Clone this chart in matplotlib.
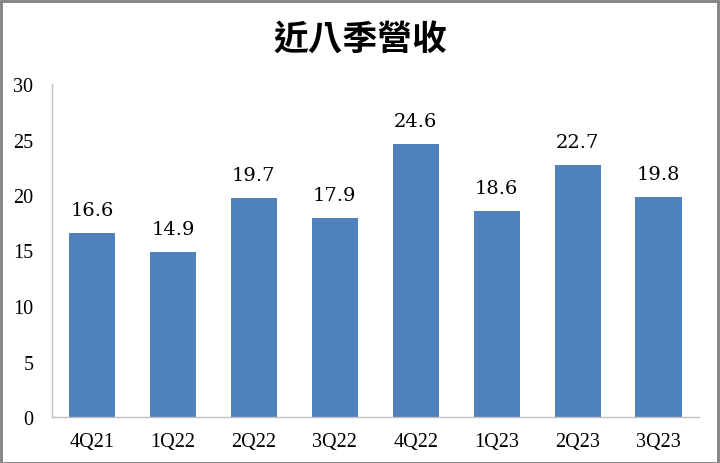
import matplotlib
matplotlib.use("Agg")
import matplotlib.pyplot as plt
from matplotlib.patches import Rectangle

categories = ["4Q21", "1Q22", "2Q22", "3Q22", "4Q22", "1Q23", "2Q23", "3Q23"]
revenue = [16.6, 14.9, 19.7, 17.9, 24.6, 18.6, 22.7, 19.8]
yticks = [0, 5, 10, 15, 20, 25, 30]
title = "近八季營收"

W, H = 720, 464
fig = plt.figure(figsize=(W / 100, H / 100), dpi=100)
ax = fig.add_axes([51.5 / W, (H - 418) / H, (699 - 51.5) / W, (418 - 85) / H])

x = list(range(len(categories)))
ax.bar(x, revenue, width=0.57, color="#4F81BD", zorder=2)
ax.set_xlim(-0.5, len(categories) - 0.5)
ax.set_ylim(0, 30)
ax.set_yticks(yticks)
ax.set_xticks(x)
ax.set_xticklabels(categories, family="Liberation Serif", fontsize=14.5)
ax.set_yticklabels([str(t) for t in yticks], family="Liberation Serif", fontsize=14.5)
ax.tick_params(axis="both", length=0)
ax.tick_params(axis="y", pad=13)
ax.tick_params(axis="x", pad=11)

for s in ["top", "right"]:
    ax.spines[s].set_visible(False)
for s in ["left", "bottom"]:
    ax.spines[s].set_color("#BFBFBF")
    ax.spines[s].set_linewidth(1.0)

for xi, v in zip(x, revenue):
    ax.annotate(f"{v:.1f}", (xi, v), xytext=(0, 10), textcoords="offset points",
                ha="center", va="bottom", family="DejaVu Serif", fontsize=14)

fig.text(0.5, (H - 40) / H, title, ha="center", va="center",
         family=["Noto Sans CJK TC", "DejaVu Sans"], fontsize=25, fontweight="bold")

fig.patches.append(Rectangle((0.5 / W, 0.5 / H), (W - 2.5) / W, (H - 2) / H,
                             transform=fig.transFigure, fill=False,
                             edgecolor="#808080", linewidth=2.0))

fig.savefig("out.png", dpi=100)
